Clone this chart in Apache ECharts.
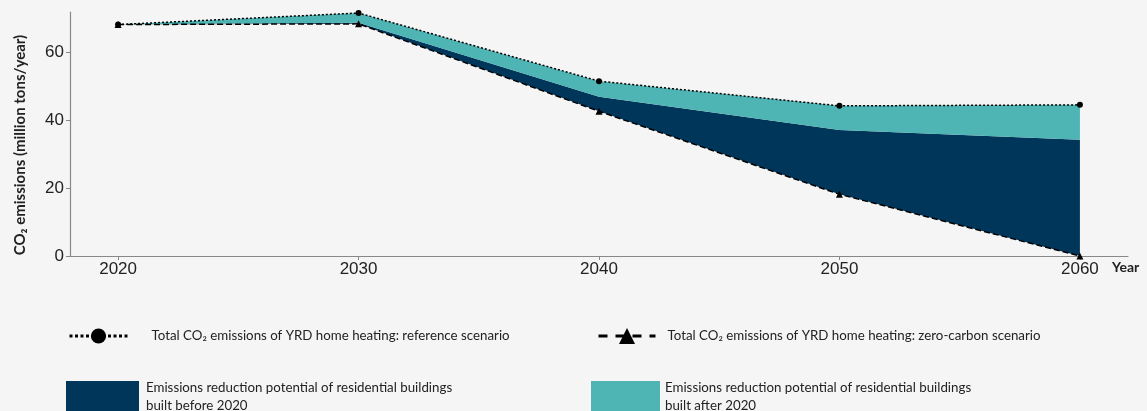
<!DOCTYPE html>
<html>
<head>
<meta charset="utf-8">
<script src="https://cdn.jsdelivr.net/npm/echarts@6/dist/echarts.min.js"></script>
<style>
html,body{margin:0;padding:0;background:#f5f5f5;}
#c{width:1147px;height:411px;}
</style>
</head>
<body>
<div id="c"></div>
<script>
const years = [2020, 2030, 2040, 2050, 2060];
const referenceScenario = [68.3, 71.7, 51.6, 44.3, 44.6];
const zeroCarbonScenario = [68.3, 68.5, 42.7, 18.2, 0];
const afterBoundary = [68.3, 68.8, 47.0, 37.2, 34.3];
const xTicks = [2020, 2030, 2040, 2050, 2060];
const yTicks = [0, 20, 40, 60];

const NAME_REF = 'Total CO\u2082 emissions of YRD home heating: reference scenario';
const NAME_ZERO = 'Total CO\u2082 emissions of YRD home heating: zero-carbon scenario';
const NAME_BEFORE = 'Emissions reduction potential of residential buildings\nbuilt before 2020';
const NAME_AFTER = 'Emissions reduction potential of residential buildings\nbuilt after 2020';

const DARK = '#003659';
const TEAL = '#4eb4b4';
const FONT = 'Lato, "Noto Sans", sans-serif';

// rows are [value, year] so the stacked dimension is the value (y) dimension
const rows = arr => years.map((y, i) => [arr[i], y]);
const beforeVals = years.map((y, i) => afterBoundary[i] - zeroCarbonScenario[i]);
const afterVals = years.map((y, i) => referenceScenario[i] - afterBoundary[i]);
const enc = {x: 1, y: 0};

const chart = echarts.init(document.getElementById('c'));
const legendText = {color: '#222', fontSize: 13.3, fontFamily: FONT, lineHeight: 18};

chart.setOption({
  backgroundColor: '#f5f5f5',
  animation: false,
  grid: {left: 70, right: 19, top: 12, bottom: 155},
  xAxis: {
    type: 'value', min: 2018, max: 2062,
    name: 'Year', nameLocation: 'end', nameGap: -16,
    nameTextStyle: {color: '#222', fontSize: 14, fontWeight: 'bold', fontFamily: FONT, verticalAlign: 'top', align: 'left', padding: [4, 0, 0, 0]},
    axisLine: {show: true, lineStyle: {color: '#888', width: 1.2}},
    axisTick: {show: true, length: 4, lineStyle: {color: '#888'}, customValues: xTicks},
    axisLabel: {color: '#222', fontSize: 17, fontFamily: 'Liberation Sans, Arial, sans-serif', margin: 5, customValues: xTicks, formatter: v => String(v)},
    splitLine: {show: false}
  },
  yAxis: {
    type: 'value', min: 0, max: 72,
    name: 'CO\u2082 emissions (million tons/year)', nameLocation: 'middle', nameGap: 42, nameRotate: 90,
    nameTextStyle: {color: '#222', fontSize: 15, fontWeight: 'bold', fontFamily: FONT, padding: [0, 22, 0, 0]},
    axisLine: {show: true, lineStyle: {color: '#888', width: 1.2}},
    axisTick: {show: true, length: 4, lineStyle: {color: '#888'}, customValues: yTicks},
    axisLabel: {color: '#222', fontSize: 17, fontFamily: 'Liberation Sans, Arial, sans-serif', margin: 6, customValues: yTicks, formatter: v => String(v)},
    splitLine: {show: false}
  },
  legend: [
    {left: 63, top: 322, itemWidth: 58, itemHeight: 19, data: [NAME_REF],
     lineStyle: {width: 3, type: [3, 2.5]}, textStyle: Object.assign({padding: [0, 0, 0, 19]}, legendText), selectedMode: false},
    {left: 592, top: 322, itemWidth: 57, itemHeight: 20, data: [NAME_ZERO],
     lineStyle: {width: 3, type: [9, 8]}, textStyle: Object.assign({padding: [0, 0, 0, 7]}, legendText), selectedMode: false},
    {left: 61, top: 374, itemWidth: 73, itemHeight: 32, icon: 'rect', data: [NAME_BEFORE],
     textStyle: Object.assign({padding: [0, 0, 0, 2]}, legendText), selectedMode: false},
    {left: 586, top: 374, itemWidth: 69, itemHeight: 32, icon: 'rect', data: [NAME_AFTER],
     textStyle: Object.assign({padding: [0, 0, 0, 0]}, legendText), selectedMode: false}
  ],
  series: [
    {name: 'base', type: 'line', stack: 'a', encode: enc, data: rows(zeroCarbonScenario), symbol: 'none',
     lineStyle: {width: 0, opacity: 0}, areaStyle: {opacity: 0}, silent: true, z: 1},
    {name: NAME_BEFORE, type: 'line', stack: 'a', encode: enc, data: rows(beforeVals), symbol: 'none',
     color: DARK, lineStyle: {width: 0, color: DARK}, areaStyle: {color: DARK, opacity: 1}, itemStyle: {color: DARK}, z: 2},
    {name: NAME_AFTER, type: 'line', stack: 'a', encode: enc, data: rows(afterVals), symbol: 'none',
     color: TEAL, lineStyle: {width: 0, color: TEAL}, areaStyle: {color: TEAL, opacity: 1}, itemStyle: {color: TEAL}, z: 2},
    {name: NAME_ZERO, type: 'line', encode: enc, data: rows(zeroCarbonScenario), symbol: 'triangle', symbolSize: 7,
     color: '#000', itemStyle: {color: '#000'}, lineStyle: {color: '#000', width: 1.5, type: [6, 3]}, z: 5},
    {name: NAME_REF, type: 'line', encode: enc, data: rows(referenceScenario), symbol: 'circle', symbolSize: 6,
     color: '#000', itemStyle: {color: '#000'}, lineStyle: {color: '#000', width: 1.5, type: [2, 2]}, z: 6}
  ]
});
</script>
</body>
</html>
